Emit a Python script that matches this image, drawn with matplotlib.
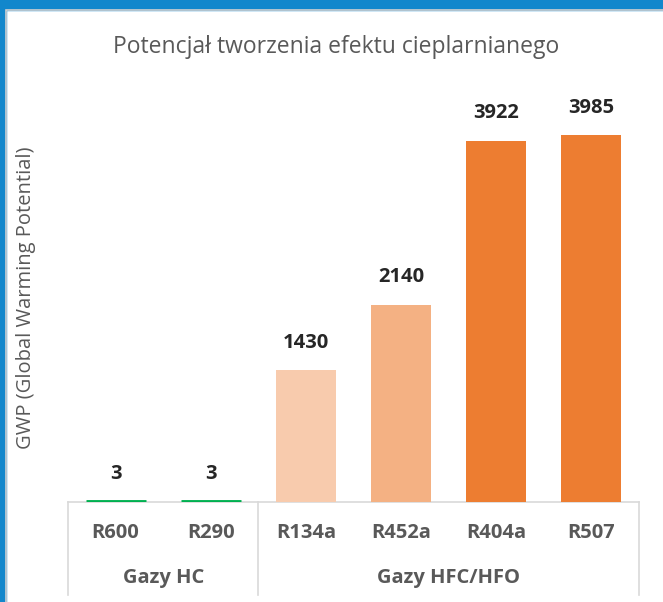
import numpy as np
import matplotlib.pyplot as plt
from matplotlib.patches import Rectangle

plt.rcParams['font.family'] = ['Open Sans', 'DejaVu Sans']

# data
refrigerants = ['R600', 'R290', 'R134a', 'R452a', 'R404a', 'R507']
gwp = [3, 3, 1430, 2140, 3922, 3985]
groups = ['Gazy HC', 'Gazy HFC/HFO']
group_sizes = [2, 4]
bar_colors = ['#00B050', '#00B050', '#F8CBAD', '#F4B183', '#ED7D31', '#ED7D31']

W, H = 663, 602
fig = plt.figure(figsize=(W/100, H/100), dpi=100)

# blue frame at top and left
fig.patches.append(Rectangle((0, 1 - 10/H), 1, 10/H, transform=fig.transFigure,
                             color='#1287CC', zorder=0))
fig.patches.append(Rectangle((0, 0), 6/W, 1, transform=fig.transFigure,
                             color='#1287CC', zorder=0))
fig.patches.append(Rectangle((6/W, -0.01), 1, 1 - 10/H + 0.01, transform=fig.transFigure,
                             fill=False, edgecolor='#D0D0D0', lw=1.2, zorder=0))

# plot area: x 68..639, baseline at y=502
left, right = 68/W, 639/W
bottom, top = 1 - 502/H, 1 - 88/H
ax = fig.add_axes([left, bottom, right - left, top - bottom])

x = np.arange(len(refrigerants))
# tiny values get a thick outline so they stay visible, as in the original
edge_lw = [3.5 if v < 50 else 0 for v in gwp]
bars = ax.bar(x, gwp, width=0.63, color=bar_colors, edgecolor=bar_colors,
              linewidth=edge_lw, zorder=3)

for xi, v in zip(x, gwp):
    ax.annotate(str(v), (xi, v), xytext=(0, 20), textcoords='offset points',
                ha='center', va='center', fontsize=14.5, fontweight='bold', color='#262626')

ax.set_xlim(-0.5, len(refrigerants) - 0.5)
ax.set_ylim(0, 4500)
ax.set_yticks([])
ax.set_xticks([])
for s in ['top', 'right', 'left']:
    ax.spines[s].set_visible(False)
ax.spines['bottom'].set_color('#D9D9D9')
ax.spines['bottom'].set_linewidth(1.2)
ax.spines['bottom'].set_zorder(1)

# hierarchical category axis
tr = ax.get_xaxis_transform()
ybox = -(595 - 502) / (502 - 88)
yrow1 = -(533 - 502) / (502 - 88)
yrow2 = -(578 - 502) / (502 - 88)
for xi, name in zip(x, refrigerants):
    ax.text(xi, yrow1, name, transform=tr, ha='center', va='center',
            fontsize=14.5, fontweight='bold', color='#595959')

edges = np.concatenate([[0], np.cumsum(group_sizes)]) - 0.5
for e in edges:
    ax.plot([e, e], [0, ybox], transform=tr, color='#D9D9D9', lw=1.2, clip_on=False)
for g, a, b in zip(groups, edges[:-1], edges[1:]):
    ax.text((a + b) / 2, yrow2, g, transform=tr, ha='center', va='center',
            fontsize=14.5, fontweight='bold', color='#595959')

fig.text(336/W, 1 - 47/H, 'Potencjał tworzenia efektu cieplarnianego',
         ha='center', va='center', fontsize=16.5, color='#595959')
fig.text(26/W, 1 - 298/H, 'GWP (Global Warming Potential)', rotation=90,
         ha='center', va='center', fontsize=14.5, color='#595959')

fig.savefig('out.png', dpi=100)
